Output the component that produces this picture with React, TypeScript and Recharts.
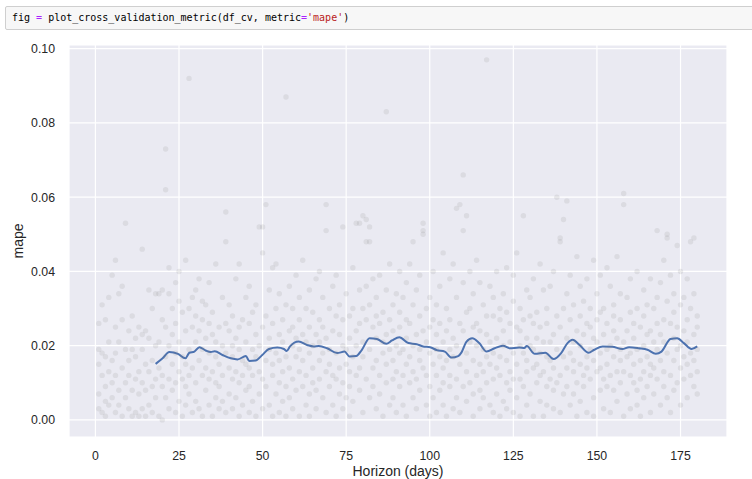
import React from 'react';
import { ComposedChart, Scatter, Line, XAxis, YAxis, CartesianGrid } from 'recharts';

// horizon day -> mape of each cutoff
const SCATTER_BY_DAY: [number, number[]][] = [
  [1, [.007, .015, .026, .003, .019]], [2, [.002, .018, .012, .031]], [3, [.009, .001, .017, .027, .005]],
  [4, [.013, .021, .004, .033]], [5, [.006, .039, .016, .010]], [6, [.043, .018, .002, .025, .012]],
  [7, [.004, .034, .021, .008]], [8, [.014, .027, .001, .036]], [9, [.053, .010, .019, .006]],
  [10, [.003, .016, .024, .012]], [11, [.019, .008, .028, .001]], [12, [.011, .002, .017, .022]],
  [13, [.001, .025, .013, .007]], [14, [.046, .019, .010, .023, .003]], [15, [.024, .008, .015, .001]],
  [16, [.013, .035, .022, .004]], [17, [.016, .009, .030, .002]], [18, [.034, .006, .020, .011]],
  [19, [.021, .001, .034, .014]], [20, [.027, .012, .000, .009, .035]], [21, [.073, .062, .017, .006, .025]],
  [22, [.041, .020, .003, .034, .011]], [23, [.008, .023, .030, .015]], [24, [.018, .002, .026, .010, .037]],
  [25, [.032, .013, .005, .021, .040]], [26, [.011, .029, .001, .017]], [27, [.043, .004, .024, .015, .009]],
  [28, [.092, .019, .007, .030, .012]], [29, [.025, .002, .033, .014]], [30, [.035, .010, .021, .005, .028]],
  [31, [.016, .038, .003, .024]], [32, [.027, .012, .019, .001, .032]], [33, [.008, .022, .031, .014]],
  [34, [.018, .004, .026, .037, .011]], [35, [.023, .013, .001, .029]], [36, [.042, .006, .017, .021, .010]],
  [37, [.009, .025, .015, .003]], [38, [.020, .033, .012, .005]], [39, [.056, .048, .018, .002, .026]],
  [40, [.014, .024, .007, .031]], [41, [.003, .017, .011, .028, .020]], [42, [.022, .006, .038, .013]],
  [43, [.042, .010, .019, .001, .025]], [44, [.016, .027, .004, .012]], [45, [.008, .021, .033, .015]],
  [46, [.026, .002, .014, .009, .036]], [47, [.012, .019, .005, .029]], [48, [.031, .017, .001, .023]],
  [49, [.052, .007, .020, .013]], [50, [.045, .052, .011, .025, .003]], [51, [.058, .028, .016, .009]],
  [52, [.019, .035, .004, .022]], [53, [.026, .012, .041, .001, .015]], [54, [.042, .018, .007, .030]],
  [55, [.010, .023, .016, .002, .034]], [56, [.021, .005, .027, .013]], [57, [.087, .017, .009, .031, .001]],
  [58, [.024, .014, .036, .006]], [59, [.030, .011, .020, .003, .025]], [60, [.017, .039, .008, .022]],
  [61, [.013, .027, .001, .019, .033]], [62, [.043, .009, .023, .016]], [63, [.021, .004, .030, .012]],
  [64, [.018, .035, .007, .025, .001]], [65, [.029, .014, .020, .010]], [66, [.008, .023, .038, .003]],
  [67, [.016, .027, .011, .040, .021]], [68, [.025, .006, .018, .033]], [69, [.058, .051, .013, .022, .002]],
  [70, [.019, .009, .030, .015]], [71, [.036, .024, .004, .012]], [72, [.011, .028, .018, .001, .039]],
  [73, [.023, .014, .007, .031]], [74, [.052, .020, .010, .027, .003]], [75, [.015, .034, .019, .006]],
  [76, [.009, .022, .001, .028, .013]], [77, [.030, .017, .041, .005]], [78, [.053, .024, .012, .020]],
  [79, [.053, .035, .008, .026, .014]], [80, [.055, .021, .030, .002, .017]], [81, [.054, .048, .027, .011, .036]],
  [82, [.052, .048, .019, .006, .031]], [83, [.038, .014, .025, .009]], [84, [.022, .033, .003, .016, .028]],
  [85, [.012, .026, .039, .007]], [86, [.029, .018, .001, .021]], [87, [.083, .023, .035, .010, .015]],
  [88, [.027, .004, .019, .042]], [89, [.016, .031, .011, .024, .006]], [90, [.034, .020, .002, .013]],
  [91, [.025, .040, .009, .018, .029]], [92, [.019, .012, .033, .004]], [93, [.037, .022, .015, .027, .001]],
  [94, [.010, .026, .042, .017]], [95, [.048, .020, .006, .031, .013]], [96, [.023, .035, .011, .003]],
  [97, [.016, .028, .019, .008, .039]], [98, [.053, .051, .050, .014, .024]], [99, [.021, .004, .030, .012]],
  [100, [.018, .033, .009, .025, .001]], [101, [.027, .015, .040, .006]], [102, [.012, .023, .002, .031, .019]],
  [103, [.036, .008, .017, .026]], [104, [.014, .045, .021, .004, .010]], [105, [.024, .001, .030, .016]],
  [106, [.009, .019, .038, .012, .027]], [107, [.042, .017, .003, .022]], [108, [.057, .020, .011, .033, .006]],
  [109, [.058, .026, .015, .002]], [110, [.066, .051, .024, .009, .037]], [111, [.055, .029, .018, .005, .013]],
  [112, [.030, .021, .040, .010]], [113, [.016, .034, .007, .025, .001]], [114, [.026, .012, .020, .043]],
  [115, [.037, .008, .024, .015, .003]], [116, [.019, .031, .013, .006]], [117, [.097, .023, .010, .028, .017]],
  [118, [.015, .036, .004, .021]], [119, [.028, .011, .018, .002, .033]], [120, [.022, .040, .007, .014]],
  [121, [.017, .027, .012, .030, .001]], [122, [.034, .020, .005, .024]], [123, [.010, .029, .016, .041, .003]],
  [124, [.021, .013, .026, .008]], [125, [.039, .018, .002, .032, .011]], [126, [.025, .015, .045, .006]],
  [127, [.011, .030, .020, .001, .024]], [128, [.055, .018, .009, .027]], [129, [.022, .004, .035, .013, .016]],
  [130, [.033, .020, .007, .028]], [131, [.014, .026, .001, .019, .038]], [132, [.029, .010, .022, .015]],
  [133, [.018, .042, .005, .025, .012]], [134, [.035, .021, .013, .001]], [135, [.026, .009, .017, .030, .004]],
  [136, [.016, .036, .011, .021]], [137, [.040, .023, .003, .014, .008]], [138, [.060, .019, .028, .010]],
  [139, [.049, .048, .012, .025, .002]], [140, [.054, .030, .017, .007]], [141, [.059, .022, .034, .014, .009]],
  [142, [.027, .018, .004, .039]], [143, [.013, .031, .021, .007, .016]], [144, [.044, .024, .010, .001]],
  [145, [.020, .028, .015, .036, .005]], [146, [.032, .012, .023, .009]], [147, [.017, .038, .002, .026, .014]],
  [148, [.025, .011, .019, .030]], [149, [.043, .016, .006, .022, .001]], [150, [.021, .034, .013, .027]],
  [151, [.014, .008, .029, .018, .039]], [152, [.030, .023, .003, .011]], [153, [.019, .026, .041, .009, .015]],
  [154, [.036, .012, .020, .002]], [155, [.024, .031, .008, .017, .028]], [156, [.013, .044, .022, .005]],
  [157, [.027, .016, .034, .010, .019]], [158, [.061, .058, .021, .001, .013]], [159, [.033, .024, .007, .017]],
  [160, [.018, .029, .012, .038, .003]], [161, [.022, .010, .026, .015]], [162, [.040, .019, .004, .030, .008]],
  [163, [.016, .025, .011, .001]], [164, [.028, .013, .035, .006, .020]], [165, [.023, .017, .009, .031]],
  [166, [.012, .038, .002, .024, .015]], [167, [.030, .021, .007, .014]], [168, [.051, .026, .011, .019, .033]],
  [169, [.037, .016, .004, .023]], [170, [.043, .027, .013, .009, .021]], [171, [.050, .049, .018, .032, .006]],
  [172, [.026, .039, .012, .002]], [173, [.034, .022, .016, .029, .008]], [174, [.047, .019, .010, .025]],
  [175, [.031, .040, .014, .004, .020]], [176, [.024, .011, .033, .017]], [177, [.038, .015, .027, .006, .021]],
  [178, [.048, .030, .018, .012]], [179, [.049, .023, .034, .009, .016]], [180, [.028, .019, .007, .025, .013]],
];

// rolling mean mape
const ROLLING: [number, number][] = [
  [18.0, .0151], [20.1, .0166], [22.1, .0183], [24.7, .0178], [26.9, .0166], [28.1, .0181], [29.6, .0184],
  [31.1, .0196], [33.0, .0187], [34.5, .0183], [35.7, .0185], [38.0, .0175], [40.5, .0166], [42.5, .0163],
  [45.0, .0172], [46.0, .0159], [47.9, .0160], [49.9, .0175], [51.9, .0191], [54.4, .0195], [56.4, .0191],
  [57.2, .0186], [58.2, .0198], [60.8, .0211], [63.3, .0202], [65.3, .0198], [66.8, .0199], [69.3, .0193],
  [72.3, .0180], [74.5, .0184], [76.0, .0171], [78.0, .0172], [79.7, .0189], [82.0, .0220], [84.2, .0218],
  [87.0, .0205], [88.7, .0214], [90.9, .0223], [93.6, .0207], [96.1, .0204], [98.0, .0198], [100.1, .0196],
  [102.1, .0188], [104.5, .0184], [106.5, .0168], [108.5, .0172], [109.5, .0182], [111.0, .0211],
  [112.7, .0220], [114.8, .0207], [117.0, .0184], [119.4, .0193], [121.9, .0200], [123.9, .0193],
  [126.8, .0195], [128.3, .0194], [129.0, .0199], [131.4, .0178], [134.6, .0181], [137.0, .0164],
  [139.3, .0180], [141.2, .0207], [142.7, .0216], [144.8, .0202], [147.5, .0181], [149.2, .0189],
  [151.7, .0198], [154.6, .0197], [157.6, .0191], [159.6, .0196], [162.6, .0193], [165.1, .0189],
  [167.6, .0178], [169.3, .0184], [172.0, .0218], [174.0, .0220], [176.0, .0207], [178.3, .0191], [180.0, .0198],
];

const X_TICKS = [0, 25, 50, 75, 100, 125, 150, 175];
const Y_TICKS = [0, 0.02, 0.04, 0.06, 0.08, 0.1];

const points = SCATTER_BY_DAY.flatMap(([d, vals]) => vals.map((v) => ({ x: d, y: v })));
const rolling = ROLLING.map(([d, v]) => ({ x: d, y: v }));

const FONT = '"Liberation Sans", Arial, sans-serif';
const tickStyle = { fontSize: 12.3, fill: '#262626', fontFamily: FONT };

const Dot = (p: any) => <circle cx={p.cx} cy={p.cy} r={2.7} fill="gray" fillOpacity={0.14} />;

export default function App() {
  return (
    <div style={{ position: 'absolute', left: 0, top: 0, width: 752, height: 479, background: '#fff', overflow: 'hidden' }}>
      <div
        style={{
          position: 'absolute', left: 5, top: 6, width: 760, height: 24, boxSizing: 'border-box',
          background: '#f7f7f7', border: '1px solid #cfcfcf', borderRadius: 2,
          fontFamily: '"DejaVu Sans Mono", monospace', fontSize: 10, lineHeight: '22px',
          paddingLeft: 6, color: '#000', whiteSpace: 'pre',
        }}
      >
        fig <span style={{ color: '#AA22FF' }}>=</span> plot_cross_validation_metric(df_cv, metric
        <span style={{ color: '#AA22FF' }}>=</span>
        <span style={{ color: '#BA2121' }}>'mape'</span>)
      </div>
      <div style={{ position: 'absolute', left: 0, top: 0 }}>
        <ComposedChart width={752} height={479} margin={{ top: 45, right: 25, bottom: 0, left: 9 }}>
          <CartesianGrid fill="#EAEAF2" stroke="#ffffff" strokeWidth={1.2} />
          <XAxis
            type="number" dataKey="x" domain={[-7.9, 188.9]} ticks={X_TICKS} height={42}
            axisLine={false} tickLine={false} tickMargin={8} tick={tickStyle} allowDataOverflow
            label={{ value: 'Horizon (days)', position: 'insideBottom', offset: 3, fontSize: 14, fill: '#262626', fontFamily: FONT }}
          />
          <YAxis
            type="number" dataKey="y" domain={[-0.0046, 0.101]} ticks={Y_TICKS} width={60}
            axisLine={false} tickLine={false} tickMargin={8} tick={tickStyle} allowDataOverflow
            tickFormatter={(v: number) => v.toFixed(2)}
            label={{ value: 'mape', angle: -90, position: 'center', dx: -21, fontSize: 14, fill: '#262626', fontFamily: FONT }}
          />
          <Scatter data={points} shape={Dot} isAnimationActive={false} />
          <Line data={rolling} dataKey="y" type="monotone" stroke="#4C72B0" strokeWidth={2} dot={false} isAnimationActive={false} />
        </ComposedChart>
      </div>
    </div>
  );
}
